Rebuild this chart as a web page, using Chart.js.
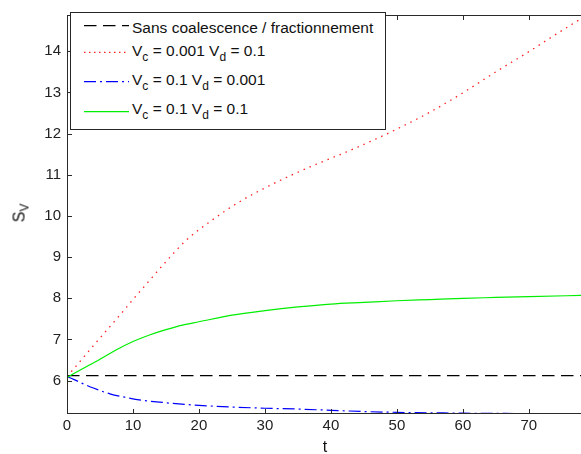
<!DOCTYPE html>
<html>
<head>
<meta charset="utf-8">
<script src="https://cdn.jsdelivr.net/npm/chart.js@4.4.0/dist/chart.umd.min.js"></script>
<style>
  html, body { margin: 0; padding: 0; background: #fff; }
  #wrap { position: relative; width: 581px; height: 454px; overflow: hidden; font-family: "Liberation Sans", Arial, sans-serif; color: #111; }
  #c { position: absolute; left: 0; top: 0; }
  #legend { position: absolute; left: 70px; top: 12px; width: 314px; height: 116px; border: 1px solid #262626; background: #fff; }
  #legend svg { position: absolute; left: 0; top: 0; }
  .row { position: absolute; left: 61px; font-size: 15.5px; line-height: 18px; white-space: nowrap; }
  .sub { font-size: 12px; position: relative; top: 5px; }
  #ylab { position: absolute; left: 19.5px; top: 213px; transform: translate(-50%, -50%) rotate(-90deg); font-size: 16px; line-height: 16px; white-space: nowrap; }
  #ylab .sub { font-size: 12px; top: 4px; }
  #xlab { position: absolute; left: 325px; top: 439px; transform: translateX(-50%); font-size: 16px; line-height: 16px; }
</style>
</head>
<body>
<div id="wrap">
  <canvas id="c" width="581" height="454"></canvas>
  <div id="legend">
    <svg width="314" height="116">
      <line x1="13" y1="12.7" x2="58" y2="12.7" stroke="#000" stroke-width="1.2" stroke-dasharray="12.5 6.5"/>
      <line x1="13" y1="39.3" x2="58" y2="39.3" stroke="#ff2020" stroke-width="1.2" stroke-dasharray="1.5 3.5"/>
      <line x1="13" y1="68.7" x2="58" y2="68.7" stroke="#0000ff" stroke-width="1.2" stroke-dasharray="12 4 2 4"/>
      <line x1="13" y1="98.7" x2="58" y2="98.7" stroke="#00ee00" stroke-width="1.2"/>
    </svg>
    <div class="row" style="top:6px">Sans coalescence / fractionnement</div>
    <div class="row" style="top:29.3px">V<span class="sub">c</span> = 0.001 V<span class="sub">d</span> = 0.1</div>
    <div class="row" style="top:57.6px">V<span class="sub">c</span> = 0.1 V<span class="sub">d</span> = 0.001</div>
    <div class="row" style="top:86.6px">V<span class="sub">c</span> = 0.1 V<span class="sub">d</span> = 0.1</div>
  </div>
  <div id="ylab">S<span class="sub">V</span></div>
  <div id="xlab">t</div>
</div>
<script>
// ---- data ----
const xTicks = [0, 10, 20, 30, 40, 50, 60, 70];
const yTicks = [6, 7, 8, 9, 10, 11, 12, 13, 14];

const tBlack = [0, 78];
const sBlack = [6.12, 6.12];

const tRed = [0, 2, 4, 6, 8, 10, 12, 15, 18, 22, 26, 30, 34, 38, 42, 46, 50, 55, 60, 65, 70, 74, 78];
const sRed = [6.10, 6.47, 6.85, 7.22, 7.59, 7.97, 8.34, 8.89, 9.40, 9.90, 10.33, 10.68, 10.99, 11.27, 11.53, 11.81, 12.11, 12.52, 12.99, 13.50, 13.99, 14.40, 14.80];

const tBlue = [0, 1, 2.5, 4, 6.5, 9, 11.5, 14, 16.5, 20, 25, 30, 35, 40, 45, 50, 55, 60, 70, 78];
const sBlue = [6.10, 6.03, 5.92, 5.82, 5.68, 5.59, 5.52, 5.48, 5.44, 5.40, 5.36, 5.33, 5.31, 5.28, 5.25, 5.23, 5.22, 5.21, 5.20, 5.195];

const tGreen = [0, 2.5, 5, 7.5, 10, 12.5, 15, 17.5, 20, 25, 30, 35, 40, 45, 50, 55, 60, 65, 70, 78];
const sGreen = [6.08, 6.30, 6.52, 6.75, 6.95, 7.11, 7.24, 7.35, 7.43, 7.59, 7.70, 7.79, 7.86, 7.90, 7.94, 7.97, 8.00, 8.02, 8.04, 8.07];

const xMin = 0, xMax = 77.9;
const yMin = 5.19, yMax = 14.88;

const pts = (ts, ss) => ts.map((t, i) => ({ x: t, y: ss[i] }));

const frame = {
  id: 'frame',
  afterDraw(chart) {
    const { ctx, chartArea: a, scales: { x, y } } = chart;
    ctx.save();
    ctx.strokeStyle = '#2a2a2a';
    ctx.lineWidth = 1;
    ctx.beginPath();
    ctx.moveTo(a.left + 0.5, a.top + 0.5); ctx.lineTo(a.right, a.top + 0.5);
    ctx.moveTo(a.left + 0.5, a.top); ctx.lineTo(a.left + 0.5, a.bottom);
    ctx.moveTo(a.left, a.bottom - 0.5); ctx.lineTo(a.right, a.bottom - 0.5);
    x.ticks.forEach(t => {
      const px = Math.round(x.getPixelForValue(t.value)) + 0.5;
      ctx.moveTo(px, a.bottom); ctx.lineTo(px, a.bottom - 5);
      ctx.moveTo(px, a.top); ctx.lineTo(px, a.top + 5);
    });
    y.ticks.forEach(t => {
      const py = Math.round(y.getPixelForValue(t.value)) + 0.5;
      ctx.moveTo(a.left, py); ctx.lineTo(a.left + 5, py);
    });
    ctx.stroke();
    ctx.restore();
  }
};

const tickFont = { family: '"Liberation Sans", Arial, sans-serif', size: 15 };

new Chart(document.getElementById('c'), {
  type: 'line',
  data: {
    datasets: [
      { label: 'Sans coalescence / fractionnement', data: pts(tBlack, sBlack), borderColor: '#000000', borderWidth: 1.2, borderDash: [12.5, 6.5], pointRadius: 0, order: 4 },
      { label: 'Vc = 0.001 Vd = 0.1', data: pts(tRed, sRed), borderColor: '#ff2020', borderWidth: 1.3, borderDash: [1.5, 5], pointRadius: 0, cubicInterpolationMode: 'monotone', order: 3 },
      { label: 'Vc = 0.1 Vd = 0.001', data: pts(tBlue, sBlue), borderColor: '#0000ff', borderWidth: 1.2, borderDash: [12, 4, 2, 4], pointRadius: 0, cubicInterpolationMode: 'monotone', order: 2 },
      { label: 'Vc = 0.1 Vd = 0.1', data: pts(tGreen, sGreen), borderColor: '#00ee00', borderWidth: 1.2, pointRadius: 0, cubicInterpolationMode: 'monotone', order: 1 }
    ]
  },
  options: {
    responsive: false,
    animation: false,
    devicePixelRatio: 1,
    layout: { padding: { top: 10, right: 0, left: 0, bottom: 0 } },
    plugins: { legend: { display: false }, tooltip: { enabled: false } },
    scales: {
      x: {
        type: 'linear', min: xMin, max: xMax, position: 'bottom',
        grid: { display: false, drawTicks: false },
        border: { display: false },
        afterBuildTicks: s => { s.ticks = xTicks.map(v => ({ value: v })); },
        afterFit: s => { s.height = 40; },
        ticks: { font: tickFont, color: '#222', padding: 3, maxRotation: 0, callback: v => String(v) }
      },
      y: {
        type: 'linear', min: yMin, max: yMax,
        grid: { display: false, drawTicks: false },
        border: { display: false },
        afterBuildTicks: s => { s.ticks = yTicks.map(v => ({ value: v })); },
        afterFit: s => { s.width = 67; },
        ticks: { font: tickFont, color: '#222', padding: 6, callback: v => String(v) }
      }
    }
  },
  plugins: [frame]
});
</script>
</body>
</html>
